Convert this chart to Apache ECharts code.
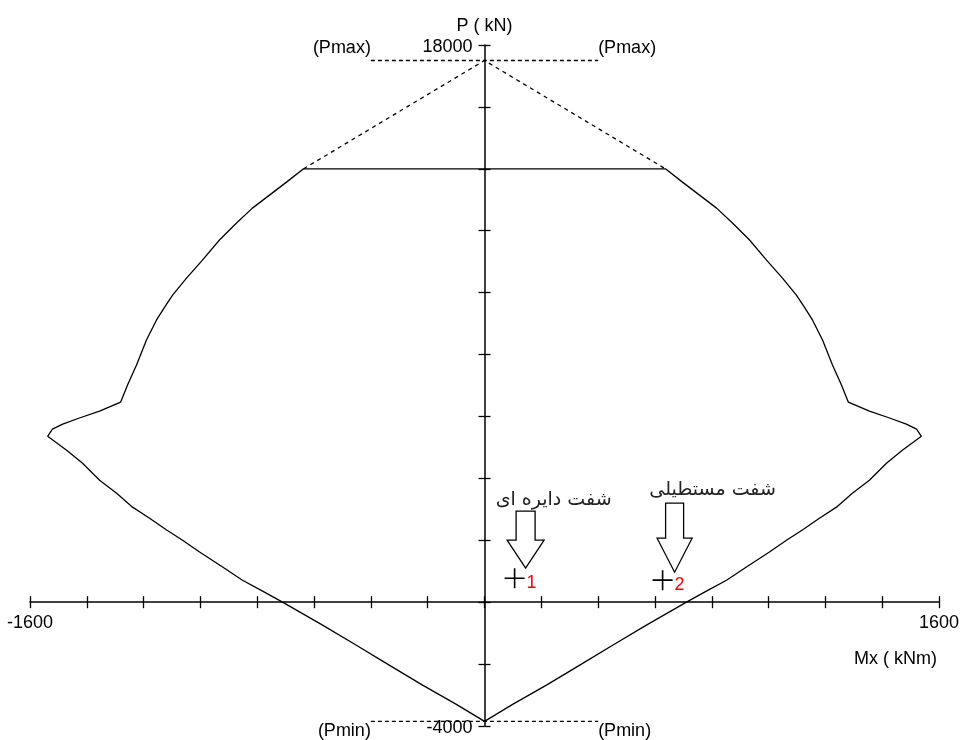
<!DOCTYPE html>
<html>
<head>
<meta charset="utf-8">
<script src="https://cdn.jsdelivr.net/npm/echarts@6/dist/echarts.min.js"></script>
<style>
  html, body { margin: 0; padding: 0; background: #ffffff; }
  #chart { width: 960px; height: 740px; }
</style>
</head>
<body>
<div id="chart"></div>
<script>
// Axis ranges and the end labels shown on each axis
const momentRange = [-1600, 1600];      // Mx (kNm)
const momentStep = 200;
const loadRange = [-4000, 18000];       // P (kN)
const loadStep = 2000;
const momentEndLabels = [-1600, 1600];
const loadEndLabels = [18000, -4000];

// Interaction diagram outline (closed loop), moment values
const outlineM = [
  -637, 637,
  697, 757, 817, 873, 933, 993, 1049, 1098, 1126, 1155, 1190, 1225, 1257, 1281,
  1355, 1426, 1485, 1521, 1538,
  1471, 1415, 1355, 1295, 1239, 1179, 1119, 1063, 1003, 926, 852, 781, 711,
  570, 451, 334, 218, 99, 0,
  -99, -218, -334, -451, -570,
  -711, -781, -852, -926, -1003, -1063, -1119, -1179, -1239, -1295, -1355, -1415, -1471,
  -1538, -1521, -1485, -1426, -1355,
  -1281, -1257, -1225, -1190, -1155, -1126, -1098, -1049, -993, -933, -873, -817, -757, -697, -637
];
// Interaction diagram outline, axial load values
const outlineP = [
  14000, 14000,
  13570, 13150, 12730, 12250, 11700, 11050, 10470, 9920, 9530, 9110, 8470, 7660, 7010, 6460,
  6170, 5950, 5750, 5590, 5360,
  4910, 4490, 3940, 3520, 3070, 2710, 2330, 2000, 1620, 1160, 710, 355, 0,
  -740, -1390, -2040, -2680, -3300, -3850,
  -3300, -2680, -2040, -1390, -740,
  0, 355, 710, 1160, 1620, 2000, 2330, 2710, 3070, 3520, 3940, 4490, 4910,
  5360, 5590, 5750, 5950, 6170,
  6460, 7010, 7660, 8470, 9110, 9530, 9920, 10470, 11050, 11700, 12250, 12730, 13150, 13570, 14000
];

// Theoretical curve above the axial cap (dashed)
const capExtensionM = [-637, 0, 637];
const capExtensionP = [14000, 17500, 14000];

// Axial limits
const pMax = 17500;
const pMin = -3850;
const limitSpan = [-400, 400];

// Column load cases
const caseNames = ['1', '2'];
const caseM = [106, 627];
const caseP = [775, 711];
const caseCaptions = ['شفت دایره ای', 'شفت مستطیلی'];

// Callout arrow shapes (pixel offsets from each case point)
const calloutLayout = [
  { tip: [11, -10], stemW: 19, headW: 37, head: 28, stem: 29, caption: [39, -78] },
  { tip: [12, -8], stemW: 18, headW: 35, head: 34, stem: 35, caption: [50, -90] }
];

const FONT = '"Liberation Sans", Arial, sans-serif';
const pairs = (a, b) => a.map((v, i) => [v, b[i]]);
const INK = '#000000';

// Two axes per direction, both on zero, so each tick crosses the axis line
function makeAxis(range, step, position, showLine) {
  return {
    type: 'value',
    min: range[0], max: range[1], interval: step,
    position: position,
    splitLine: { show: false },
    axisLine: { show: showLine, onZero: true, onZeroAxisIndex: 0, lineStyle: { color: INK, width: 1.5 } },
    axisTick: { show: true, inside: false, length: 6, lineStyle: { color: INK, width: 1.3 } },
    axisLabel: { show: false }
  };
}

const xMain = makeAxis(momentRange, momentStep, 'bottom', true);
xMain.name = 'Mx ( kNm)';
xMain.nameLocation = 'end';
xMain.nameGap = -2;
xMain.nameTextStyle = { color: INK, fontFamily: FONT, fontSize: 18, align: 'right', verticalAlign: 'top', padding: [48, 0, 0, 0] };

const yMain = makeAxis(loadRange, loadStep, 'left', true);
yMain.name = 'P ( kN)';
yMain.nameLocation = 'end';
yMain.nameGap = 10;
yMain.nameTextStyle = { color: INK, fontFamily: FONT, fontSize: 18, align: 'center' };

const labelText = { color: INK, fontFamily: FONT, fontSize: 18 };

const option = {
  backgroundColor: '#ffffff',
  animation: false,
  grid: { left: 30, right: 21, top: 45, bottom: 14, containLabel: false, outerBoundsMode: 'none' },
  xAxis: [xMain, makeAxis(momentRange, momentStep, 'top', false)],
  yAxis: [yMain, makeAxis(loadRange, loadStep, 'right', false)],
  series: [
    {
      name: 'outline', type: 'line', xAxisIndex: 0, yAxisIndex: 0,
      data: pairs(outlineM, outlineP),
      showSymbol: false, symbol: 'none', silent: true,
      lineStyle: { color: INK, width: 1.3 }
    },
    {
      name: 'cap extension', type: 'line', xAxisIndex: 0, yAxisIndex: 0,
      data: pairs(capExtensionM, capExtensionP),
      showSymbol: false, symbol: 'none', silent: true,
      lineStyle: { color: INK, width: 1.3, type: [4, 4] }
    },
    {
      name: 'Pmax', type: 'line', xAxisIndex: 0, yAxisIndex: 0,
      data: limitSpan.map((m, i) => ({
        value: [m, pMax],
        label: { show: true, formatter: '(Pmax)', position: 'top', distance: 3, align: i === 0 ? 'right' : 'left' }
      })),
      symbol: 'circle', symbolSize: 0.01, showSymbol: true, silent: true,
      itemStyle: { color: 'transparent', opacity: 1 },
      label: labelText,
      lineStyle: { color: INK, width: 1.3, type: [4, 3] }
    },
    {
      name: 'Pmin', type: 'line', xAxisIndex: 0, yAxisIndex: 0,
      data: limitSpan.map((m, i) => ({
        value: [m, pMin],
        label: { show: true, formatter: '(Pmin)', position: 'bottom', distance: 1, align: i === 0 ? 'right' : 'left' }
      })),
      symbol: 'circle', symbolSize: 0.01, showSymbol: true, silent: true,
      itemStyle: { color: 'transparent', opacity: 1 },
      label: labelText,
      lineStyle: { color: INK, width: 1.3, type: [4, 3] }
    },
    {
      // end labels of the moment axis, sitting under the axis line
      name: 'moment end labels', type: 'scatter', xAxisIndex: 0, yAxisIndex: 0,
      data: momentEndLabels.map(m => [m, 0]),
      symbolSize: 0, silent: true,
      itemStyle: { opacity: 1 },
      label: Object.assign({ show: true, position: 'bottom', distance: 12, formatter: p => String(p.value[0]) }, labelText)
    },
    {
      // end labels of the load axis, to the left of the axis line
      name: 'load end labels', type: 'scatter', xAxisIndex: 0, yAxisIndex: 0,
      data: loadEndLabels.map(v => [0, v]),
      symbolSize: 0, silent: true,
      itemStyle: { opacity: 1 },
      label: Object.assign({ show: true, position: 'left', distance: 12, offset: [0, 2], formatter: p => String(p.value[1]) }, labelText)
    },
    {
      name: 'cases', type: 'scatter', xAxisIndex: 0, yAxisIndex: 0,
      data: caseM.map((m, i) => ({ value: [m, caseP[i]], name: caseNames[i] })),
      symbol: 'path://M0,10L20,10M10,0L10,20', symbolSize: 20, silent: true,
      itemStyle: { color: 'transparent', borderColor: INK, borderWidth: 1.6, opacity: 1 },
      label: {
        show: true, position: 'right', distance: 1, offset: [0, 5],
        formatter: p => p.name, color: '#ff0000', fontFamily: FONT, fontSize: 18
      },
      z: 4
    },
    {
      name: 'callouts', type: 'custom', xAxisIndex: 0, yAxisIndex: 0,
      data: pairs(caseM, caseP),
      silent: true, z: 5,
      renderItem: (params, api) => {
        const p = api.coord([api.value(0), api.value(1)]);
        const L = calloutLayout[params.dataIndex];
        const tx = p[0] + L.tip[0];
        const ty = p[1] + L.tip[1];
        const hw = L.headW / 2, sw = L.stemW / 2;
        const hy = ty - L.head, sy = hy - L.stem;
        const pts = [[tx - sw, sy], [tx + sw, sy], [tx + sw, hy], [tx + hw, hy], [tx, ty], [tx - hw, hy], [tx - sw, hy]];
        return {
          type: 'group',
          children: [
            { type: 'polygon', shape: { points: pts }, style: { fill: '#ffffff', stroke: INK, lineWidth: 1.3 } },
            {
              type: 'text', x: p[0] + L.caption[0], y: p[1] + L.caption[1],
              style: {
                text: caseCaptions[params.dataIndex],
                font: '19px "DejaVu Sans", "Noto Sans", sans-serif',
                fill: '#222222', align: 'center', verticalAlign: 'middle'
              }
            }
          ]
        };
      }
    }
  ]
};

const chart = echarts.init(document.getElementById('chart'), null, { renderer: 'canvas' });
chart.setOption(option);
</script>
</body>
</html>
